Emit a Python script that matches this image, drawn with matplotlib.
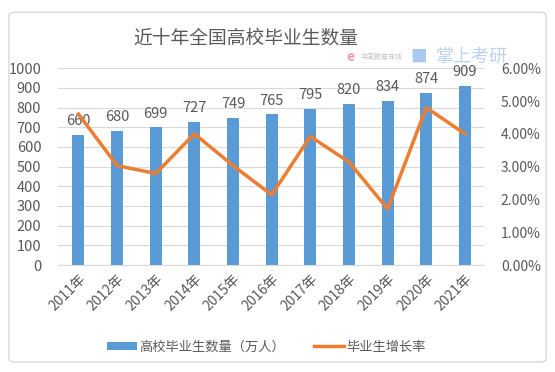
import numpy as np
import matplotlib.pyplot as plt
from matplotlib.patches import FancyBboxPatch
from matplotlib.ticker import PercentFormatter

plt.rcParams['font.family'] = ['Noto Sans CJK SC', 'DejaVu Sans']

years = ['2011年', '2012年', '2013年', '2014年', '2015年', '2016年',
         '2017年', '2018年', '2019年', '2020年', '2021年']
graduates = [660, 680, 699, 727, 749, 765, 795, 820, 834, 874, 909]
growth = [4.6, 3.03, 2.79, 4.0, 3.03, 2.14, 3.92, 3.14, 1.71, 4.8, 4.0]

blue = '#5B9BD5'
orange = '#ED7D31'
txt = '#595959'

fig = plt.figure(figsize=(5.55, 3.72), dpi=100)
fig.patches.append(FancyBboxPatch((0.016, 0.027), 0.968, 0.94,
                                  boxstyle='round,pad=0,rounding_size=0.01',
                                  transform=fig.transFigure, fill=False,
                                  edgecolor='#D9D9D9', linewidth=1))

ax = fig.add_axes([0.1045, 0.2876, 0.768, 0.529])
x = np.arange(len(years))
bars = ax.bar(x, graduates, width=0.31, color=blue, zorder=2)
for xi, v in zip(x, graduates):
    ax.annotate(str(v), (xi, v), xytext=(0, 5), textcoords='offset points',
                ha='center', va='bottom', fontsize=10.5, color=txt)

ax.set_ylim(0, 1000)
ax.set_yticks(range(0, 1001, 100))
ax.set_xlim(-0.53, 10.5)
ax.set_xticks(x)
ax.set_xticklabels(years, rotation=45, ha='right', rotation_mode='anchor')
ax.grid(axis='y', color='#D9D9D9', linewidth=0.8, zorder=0)
for s in ax.spines.values():
    s.set_visible(False)
ax.spines['bottom'].set_visible(True)
ax.spines['bottom'].set_color('#D9D9D9')
ax.tick_params(axis='both', length=0, colors=txt)
ax.tick_params(axis='y', pad=12, labelsize=10.5)
ax.tick_params(axis='x', pad=5, labelsize=10)

ax2 = ax.twinx()
line, = ax2.plot(x, growth, color=orange, linewidth=2.5, solid_joinstyle='round')
ax2.set_ylim(0, 6)
ax2.set_yticks(range(0, 7))
ax2.yaxis.set_major_formatter(PercentFormatter(decimals=2))
for s in ax2.spines.values():
    s.set_visible(False)
ax2.tick_params(axis='y', length=0, colors=txt, labelsize=10, pad=12)

fig.text(0.443, 0.898, '近十年全国高校毕业生数量', ha='center', va='center',
         fontsize=13.5, color=txt)
# watermark
fig.text(0.632, 0.846, 'e', color='#E8A0A0', fontsize=10, fontweight='bold',
         ha='center', va='center')
fig.text(0.688, 0.846, '中国教育在线', color='#C0C0C0', fontsize=5,
         ha='center', va='center')
fig.text(0.754, 0.846, '■', color='#A9C8EE', fontsize=12,
         ha='center', va='center')
fig.text(0.85, 0.846, '掌上考研', color='#BBD3F0', fontsize=13,
         ha='center', va='center')

fig.legend([bars, line], ['高校毕业生数量（万人）', '毕业生增长率'],
           loc='center', bbox_to_anchor=(0.48, 0.067), ncol=2, frameon=False,
           fontsize=9.5, labelcolor=txt, handlelength=2.3, handleheight=0.55,
           columnspacing=2.2, handletextpad=0.15)

fig.savefig('out.png', dpi=100)
